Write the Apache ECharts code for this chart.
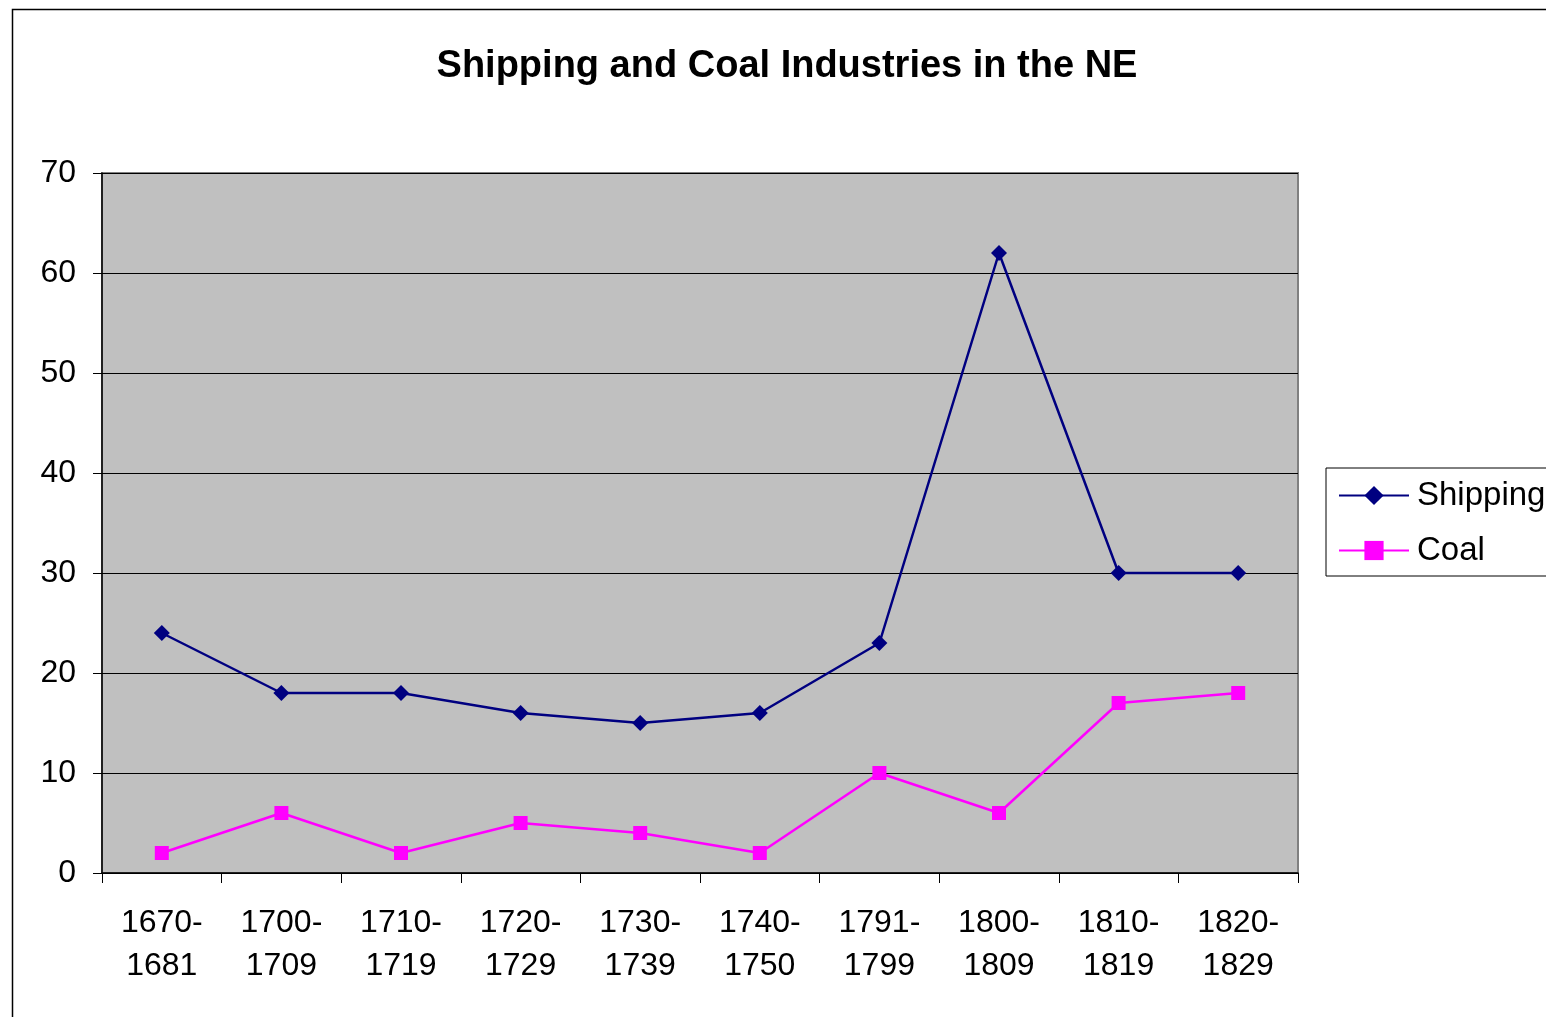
<!DOCTYPE html>
<html>
<head>
<meta charset="utf-8">
<script src="https://cdn.jsdelivr.net/npm/echarts@6/dist/echarts.min.js"></script>
<style>
html,body{margin:0;padding:0;background:#fff;}
#c{width:1546px;height:1017px;}
</style>
</head>
<body>
<div id="c"></div>
<script>
const categories = ['1670-\n1681','1700-\n1709','1710-\n1719','1720-\n1729','1730-\n1739','1740-\n1750','1791-\n1799','1800-\n1809','1810-\n1819','1820-\n1829'];
const shipping = [24, 18, 18, 16, 15, 16, 23, 62, 30, 30];
const coal = [2, 6, 2, 5, 4, 2, 10, 6, 17, 18];
const yTicks = [0, 10, 20, 30, 40, 50, 60, 70];

const chart = echarts.init(document.getElementById('c'), null, {renderer: 'canvas'});
const FONT = '"Liberation Sans", Arial, sans-serif';
chart.setOption({
  animation: false,
  backgroundColor: '#fff',
  title: {
    text: 'Shipping and Coal Industries in the NE',
    left: 782, top: 43, textAlign: 'center',
    textStyle: {fontFamily: FONT, fontSize: 38, fontWeight: 'bold', color: '#000'}
  },
  graphic: [{
    type: 'rect', left: 10, top: 7, z: -1,
    shape: {width: 1600, height: 1100},
    style: {fill: 'none', stroke: '#000', lineWidth: 1.5}
  }],
  legend: {
    left: 1326, top: 468, orient: 'vertical',
    width: 260, padding: [11, 100, 9, 12], itemGap: 22,
    borderColor: '#000', borderWidth: 1, backgroundColor: '#fff',
    itemWidth: 70, itemHeight: 24,
    textStyle: {fontFamily: FONT, fontSize: 33, color: '#000', padding: [0,0,0,3]},
    data: ['Shipping', 'Coal']
  },
  grid: {
    left: 102, right: 248, top: 173, bottom: 144,
    show: true, backgroundColor: '#C0C0C0', borderColor: '#808080', borderWidth: 2
  },
  xAxis: {
    type: 'category', data: categories, boundaryGap: true,
    axisLine: {lineStyle: {color: '#000', width: 1.5}},
    axisTick: {show: true, length: 10, interval: 0, lineStyle: {color: '#000'}},
    axisLabel: {fontFamily: FONT, fontSize: 32, color: '#000', margin: 29, lineHeight: 43, interval: 0},
    splitLine: {show: false}
  },
  yAxis: {
    type: 'value', min: yTicks[0], max: yTicks[yTicks.length-1], interval: 10,
    axisLine: {show: true, lineStyle: {color: '#000', width: 1.5}},
    axisTick: {show: true, length: 9, lineStyle: {color: '#000'}},
    axisLabel: {fontFamily: FONT, fontSize: 32, color: '#000', margin: 26},
    splitLine: {show: true, lineStyle: {color: '#000', width: 1}}
  },
  series: [{
    name: 'Shipping', type: 'line', data: shipping,
    symbol: 'diamond', symbolSize: 16,
    lineStyle: {color: '#000080', width: 2.5},
    itemStyle: {color: '#000080'}
  }, {
    name: 'Coal', type: 'line', data: coal,
    symbol: 'rect', symbolSize: 14,
    lineStyle: {color: '#FF00FF', width: 2.5},
    itemStyle: {color: '#FF00FF'}
  }]
});
</script>
</body>
</html>
